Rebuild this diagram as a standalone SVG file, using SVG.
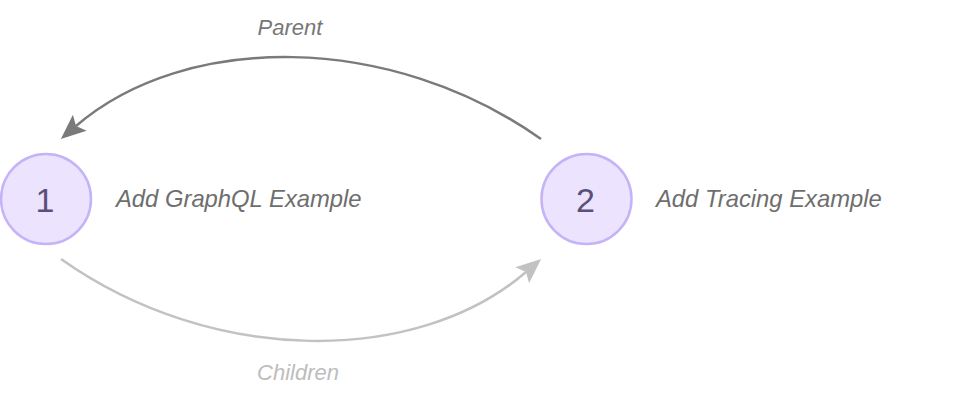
<svg xmlns="http://www.w3.org/2000/svg" width="978" height="408" viewBox="0 0 978 408">
<style>
  .node circle { fill: #ece3fe; stroke: #c5b3f8; stroke-width: 2.5; }
  .num { font-family: "Liberation Sans", Arial, sans-serif; font-size: 34px; fill: #5b5078; text-anchor: middle; }
  .lbl { font-family: "Liberation Sans", Arial, sans-serif; font-style: italic; font-size: 23.8px; fill: #6e6e6e; }
  .elbl { font-family: "Liberation Sans", Arial, sans-serif; font-style: italic; font-size: 22px; text-anchor: middle; }
  .edge { fill: none; stroke-width: 2.5; }
</style>
<defs>
  <marker id="arrowDark" markerUnits="userSpaceOnUse" markerWidth="26" markerHeight="24" viewBox="0 0 26 24" refX="5" refY="12" orient="auto" overflow="visible">
    <path d="M25,12 L0,1.5 L5,12 L0,22.5 z" fill="#7a7a7a"/>
  </marker>
  <marker id="arrowLight" markerUnits="userSpaceOnUse" markerWidth="26" markerHeight="24" viewBox="0 0 26 24" refX="5" refY="12" orient="auto" overflow="visible">
    <path d="M25,12 L0,1.5 L5,12 L0,22.5 z" fill="#c2c2c2"/>
  </marker>
</defs>
<g id="connectors">
  <g id="edge-parent">
    <path class="edge" d="M541,139 C390,32 185,32 76,126" stroke="#7a7a7a" marker-end="url(#arrowDark)"/>
    <text class="elbl" x="290" y="35" fill="#777777">Parent</text>
  </g>
  <g id="edge-children">
    <path class="edge" d="M61,259 C212,366 417,366 526,272" stroke="#c2c2c2" marker-end="url(#arrowLight)"/>
    <text class="elbl" x="298" y="380" fill="#bdbdbd">Children</text>
  </g>
</g>
<g id="node-1" class="node">
  <circle cx="46" cy="199" r="45"/>
  <text class="num" x="45" y="212">1</text>
  <text class="lbl" x="116" y="207">Add GraphQL Example</text>
</g>
<g id="node-2" class="node">
  <circle cx="586.5" cy="199" r="45"/>
  <text class="num" x="585.5" y="212">2</text>
  <text class="lbl" x="656" y="207">Add Tracing Example</text>
</g>
</svg>
